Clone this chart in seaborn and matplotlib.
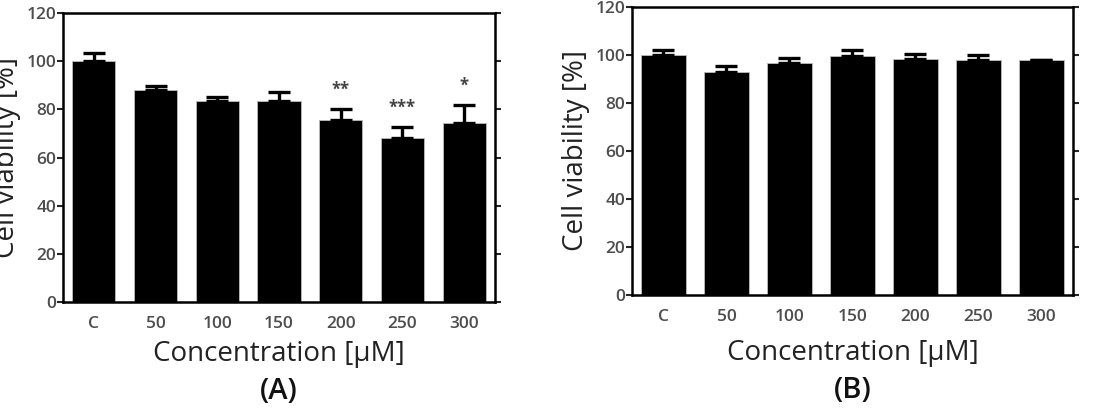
import matplotlib
matplotlib.use("Agg")
import numpy as np
import seaborn as sns
from matplotlib import pyplot as plt

# concentrations (uM); "C" = untreated control
CONC = ["C", "50", "100", "150", "200", "250", "300"]

VIAB_A = [100.0, 88.0, 83.3, 83.3, 75.5, 68.2, 74.3]
SD_A = [3.4, 1.6, 2.0, 4.0, 4.5, 4.5, 7.4]
STARS_A = ["", "", "", "", "**", "***", "*"]

VIAB_B = [100.0, 92.8, 96.4, 99.4, 98.2, 97.6, 97.6]
SD_B = [1.8, 2.3, 2.2, 2.4, 1.9, 2.4, 0.0]

GREY = "#4d4d4d"


def draw_panel(ax, values, sds, stars, tag, xpad, tag_y):
    sns.barplot(x=CONC, y=values, color="black", width=0.7, ax=ax,
                edgecolor="#bbbbbb", linewidth=0.6, saturation=1)
    xs = np.arange(len(CONC))
    ax.errorbar(xs, values, yerr=[np.zeros(len(sds)), sds], fmt="none",
                ecolor="black", elinewidth=2.4, capsize=8, capthick=2.4)
    for x, v, s, st in zip(xs, values, sds, stars):
        if st:
            ax.text(x, v + s + 8, st, ha="center", va="center",
                    fontsize=12, fontweight="bold", color="#444444")
    ax.set_xlim(-0.5, len(CONC) - 0.5)
    ax.set_ylim(0, 120)
    ax.set_yticks(range(0, 121, 20))
    for sp in ax.spines.values():
        sp.set_visible(True)
        sp.set_color("black")
        sp.set_linewidth(1.8)
    ax.tick_params(axis="x", length=0, pad=10, labelsize=12.5, labelcolor=GREY)
    ax.tick_params(axis="y", direction="out", length=4, width=1.5,
                   pad=1, labelsize=12.5, labelcolor=GREY,
                   right=True, left=True)
    for lab in ax.get_xticklabels() + ax.get_yticklabels():
        lab.set_fontweight("semibold")
    ax.set_xlabel("Concentration [μM]", fontsize=20, color="#222222",
                  labelpad=xpad)
    ax.set_ylabel("Cell viability [%]", fontsize=20, color="#222222",
                  labelpad=4)
    ax.text(0.5, tag_y, tag, transform=ax.transAxes, ha="center",
            va="center", fontsize=21, fontweight="semibold", color="#111111")


def main():
    sns.set_style("white")
    plt.rcParams["font.family"] = ["Open Sans", "DejaVu Sans"]
    fig = plt.figure(figsize=(10.97, 4.17), dpi=100)
    ax_a = fig.add_axes([0.0574, 0.2758, 0.3938, 0.693])
    ax_b = fig.add_axes([0.5761, 0.2926, 0.402, 0.6918])
    draw_panel(ax_a, VIAB_A, SD_A, STARS_A, "(A)", 6, -0.31)
    draw_panel(ax_b, VIAB_B, SD_B, [""] * len(CONC), "(B)", 10, -0.33)
    fig.savefig("out.png", dpi=100, facecolor="white")
    plt.close(fig)


if __name__ == "__main__":
    main()
